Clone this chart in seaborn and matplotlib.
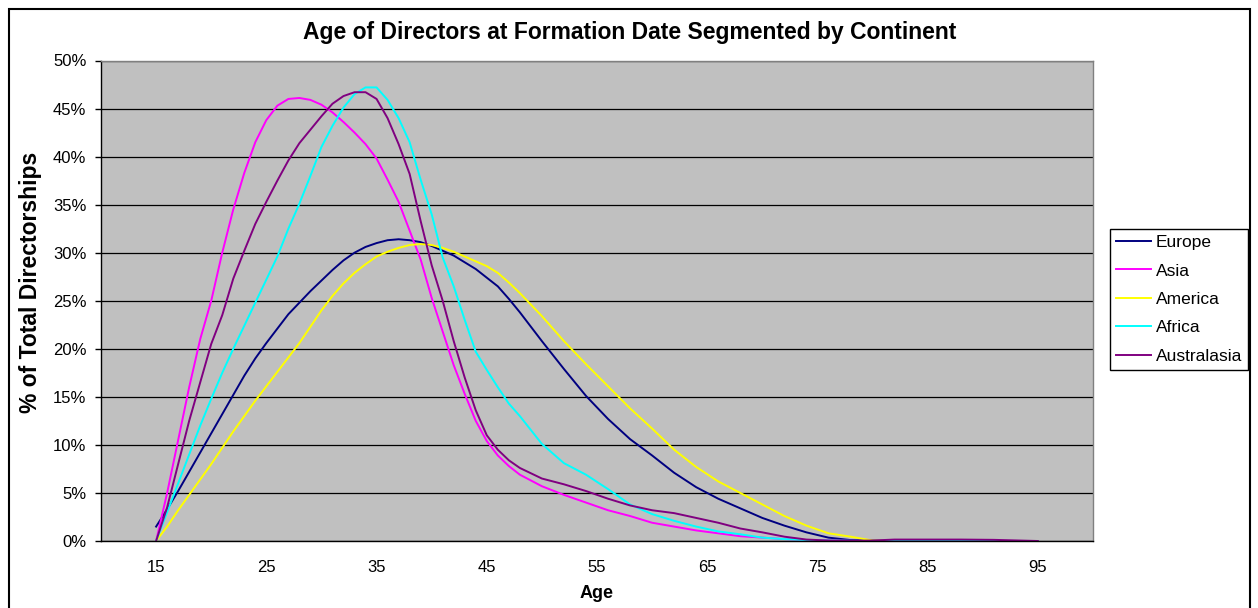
import numpy as np
import pandas as pd
import matplotlib
matplotlib.use("Agg")
import matplotlib.pyplot as plt
import seaborn as sns
from matplotlib.patches import Rectangle
from matplotlib.ticker import FuncFormatter

# ----------------------------------------------------------------------------
# Data (% of total directorships)
# ----------------------------------------------------------------------------
ages = [15, 16, 17, 18, 19, 20, 21, 22, 23, 24, 25, 26, 27, 28, 29, 30, 31, 32,
        33, 34, 35, 36, 37, 38, 39, 40, 41, 42, 43, 44, 45, 46, 47, 48, 50, 52,
        54, 56, 58, 60, 62, 64, 66, 68, 70, 72, 74, 76, 78, 80, 82, 85, 88, 91, 95]

europe = [1.5, 3.3, 5.2, 7.2, 9.2, 11.2, 13.2, 15.2, 17.2, 19.0, 20.6, 22.1, 23.6,
          24.8, 26.0, 27.1, 28.2, 29.2, 30.0, 30.6, 31.0, 31.3, 31.4, 31.3, 31.1,
          30.7, 30.2, 29.7, 29.0, 28.3, 27.4, 26.5, 25.2, 23.8, 20.8, 17.9, 15.1,
          12.7, 10.6, 8.9, 7.1, 5.6, 4.4, 3.4, 2.4, 1.6, 0.9, 0.35, 0.1, 0.05,
          0.0, 0.0, 0.0, 0.0, 0.0]

asia = [0.0, 5.0, 10.5, 16.0, 21.0, 25.0, 30.0, 34.5, 38.3, 41.5, 43.8, 45.3, 46.0,
        46.1, 45.9, 45.4, 44.6, 43.6, 42.5, 41.3, 39.8, 37.6, 35.3, 32.3, 29.3,
        25.3, 21.8, 18.3, 15.3, 12.5, 10.4, 8.9, 7.8, 6.9, 5.7, 4.8, 4.0, 3.2,
        2.6, 1.9, 1.5, 1.1, 0.8, 0.5, 0.35, 0.2, 0.1, 0.05, 0.02, 0.0, 0.0, 0.0,
        0.0, 0.0, 0.0]

america = [0.0, 1.5, 3.2, 4.8, 6.4, 8.0, 9.7, 11.4, 13.0, 14.6, 16.1, 17.6, 19.1,
           20.6, 22.3, 24.0, 25.5, 26.8, 27.9, 28.8, 29.6, 30.1, 30.5, 30.8, 30.9,
           30.8, 30.5, 30.1, 29.6, 29.1, 28.6, 27.9, 26.9, 25.8, 23.4, 20.8, 18.4,
           16.1, 13.8, 11.7, 9.5, 7.7, 6.2, 5.0, 3.8, 2.6, 1.6, 0.8, 0.45, 0.05,
           0.0, 0.0, 0.0, 0.0, 0.0]

africa = [0.0, 3.0, 6.0, 9.0, 12.0, 14.8, 17.5, 20.0, 22.4, 24.8, 27.2, 29.6, 32.5,
          35.1, 38.0, 41.0, 43.2, 45.1, 46.5, 47.2, 47.2, 45.9, 44.0, 41.5, 37.6,
          34.0, 29.5, 26.5, 23.0, 19.7, 17.8, 16.0, 14.3, 13.0, 10.1, 8.1, 6.9,
          5.4, 3.8, 2.8, 2.1, 1.5, 1.0, 0.7, 0.35, 0.2, 0.1, 0.05, 0.02, 0.0,
          0.0, 0.0, 0.0, 0.0, 0.0]

australasia = [0.0, 3.5, 8.0, 12.5, 16.5, 20.5, 23.5, 27.3, 30.2, 33.0, 35.3, 37.5,
               39.6, 41.4, 42.8, 44.2, 45.5, 46.3, 46.7, 46.7, 46.0, 44.0, 41.3,
               38.2, 33.3, 28.7, 25.0, 20.8, 17.0, 13.6, 11.0, 9.5, 8.4, 7.6, 6.5,
               5.9, 5.2, 4.4, 3.7, 3.2, 2.9, 2.4, 1.9, 1.3, 0.9, 0.45, 0.15, 0.05,
               0.02, 0.05, 0.15, 0.15, 0.15, 0.12, 0.0]

continents = ["Europe", "Asia", "America", "Africa", "Australasia"]
colors = {"Europe": "#000080", "Asia": "#FF00FF", "America": "#FFFF00",
          "Africa": "#00FFFF", "Australasia": "#800080"}
x_ticks = [15, 25, 35, 45, 55, 65, 75, 85, 95]

series = dict(zip(continents, [europe, asia, america, africa, australasia]))
df = pd.concat(
    [pd.DataFrame({"Age": ages, "Pct": v, "Continent": k}) for k, v in series.items()],
    ignore_index=True,
)

# ----------------------------------------------------------------------------
# Figure
# ----------------------------------------------------------------------------
plt.rcParams["font.family"] = ["Liberation Sans", "DejaVu Sans"]

W, H = 1258, 608
fig = plt.figure(figsize=(W / 100, H / 100), dpi=100)
ax = fig.add_axes([101 / W, 1 - 541 / H, (1093 - 101) / W, (541 - 60.5) / H])
ax.set_facecolor("#C0C0C0")

sns.lineplot(data=df, x="Age", y="Pct", hue="Continent", hue_order=continents,
             palette=colors, linewidth=1.4, ax=ax, legend=True)

ax.set_xlim(10, 100)
ax.set_ylim(0, 50)
ax.set_yticks(range(0, 51, 5))
ax.yaxis.set_major_formatter(FuncFormatter(lambda v, _: f"{v:.0f}%"))
ax.set_xticks(x_ticks)
ax.grid(axis="y", color="black", linewidth=0.9)
ax.set_axisbelow(True)

ax.tick_params(axis="x", length=0, labelsize=12, pad=14)
ax.tick_params(axis="y", length=4.5, width=1, labelsize=12, pad=6, direction="out")

for side in ["left", "bottom"]:
    ax.spines[side].set_color("black")
    ax.spines[side].set_linewidth(1.0)
for side in ["top", "right"]:
    ax.spines[side].set_color("#808080")
    ax.spines[side].set_linewidth(1.0)

ax.set_xlabel("")
ax.set_ylabel("")
fig.text(597 / W, 1 - 593 / H, "Age", ha="center", va="center",
         fontsize=13, fontweight="bold")
fig.text(31 / W, 1 - 282 / H, "% of Total Directorships", ha="center", va="center",
         rotation=90, fontsize=16.5, fontweight="bold")
fig.text(630 / W, 1 - 32 / H, "Age of Directors at Formation Date Segmented by Continent",
         ha="center", va="center", fontsize=16.5, fontweight="bold")

# Legend box to the right of the plot area
handles, labels = ax.get_legend_handles_labels()
ax.legend(handles, labels, loc="upper left",
          bbox_to_anchor=(1110 / W, 1 - 229 / H), bbox_transform=fig.transFigure,
          frameon=True, fancybox=False, framealpha=1, edgecolor="black",
          fontsize=12.5, handlelength=2.0, handletextpad=0.3, labelspacing=0.76,
          borderpad=0.35, borderaxespad=0)
ax.get_legend().get_frame().set_linewidth(1.0)

# Outer chart border (cut off at the bottom like the original)
fig.patches.append(Rectangle((9 / W, -0.05), (1250 - 9) / W, 1.05 - 9 / H,
                             transform=fig.transFigure, fill=False,
                             edgecolor="black", linewidth=1.5))

fig.savefig("out.png", dpi=100)
